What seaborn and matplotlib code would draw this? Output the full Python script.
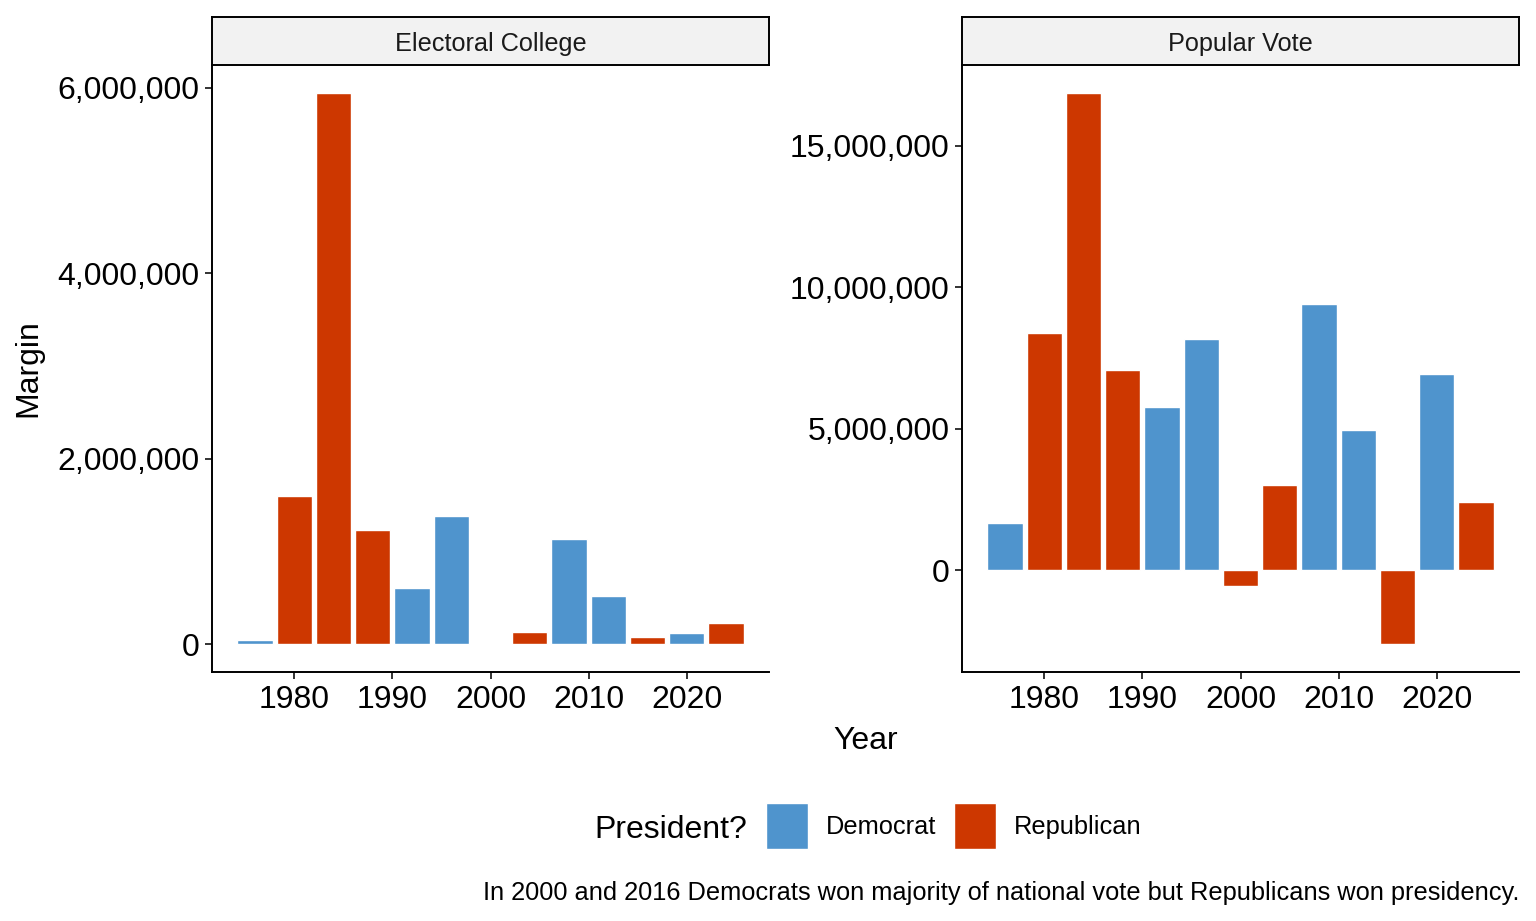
import pandas as pd
import matplotlib
matplotlib.use('Agg')
import matplotlib.pyplot as plt
import seaborn as sns
from matplotlib.patches import Patch
from matplotlib.ticker import FuncFormatter

# Election years and winning party
years = [1976, 1980, 1984, 1988, 1992, 1996, 2000, 2004, 2008, 2012, 2016, 2020, 2024]
president = ['Democrat', 'Republican', 'Republican', 'Republican', 'Democrat', 'Democrat',
             'Republican', 'Republican', 'Democrat', 'Democrat', 'Republican', 'Democrat',
             'Republican']

# Margins
electoral_margin = [43000, 1600000, 5950000, 1230000, 605000, 1380000, 537,
                    130000, 1135000, 520000, 77700, 120000, 227000]
popular_margin = [1680000, 8400000, 16880000, 7060000, 5780000, 8190000, -570000,
                  3010000, 9400000, 4960000, -2620000, 6950000, 2410000]

panels = ['Electoral College', 'Popular Vote']
colors = {'Democrat': '#4F94CD', 'Republican': '#CD3700'}

df = pd.concat([
    pd.DataFrame({'Year': years, 'Margin': electoral_margin, 'President': president,
                  'Type': 'Electoral College'}),
    pd.DataFrame({'Year': years, 'Margin': popular_margin, 'President': president,
                  'Type': 'Popular Vote'}),
])

sns.set_theme(style='white')
plt.rcParams['font.family'] = ['Liberation Sans', 'DejaVu Sans']
plt.rcParams['text.color'] = 'black'
plt.rcParams['axes.labelcolor'] = 'black'

fig = plt.figure(figsize=(15.36, 9.21), dpi=100)
W, H = 1536, 921

panel_x = [212, 962]
panel_w = 557
top_px, bot_px = 65, 672
strip_top = 17

yticks = {'Electoral College': [0, 2000000, 4000000, 6000000],
          'Popular Vote': [0, 5000000, 10000000, 15000000]}

for px, name in zip(panel_x, panels):
    ax = fig.add_axes([px / W, 1 - bot_px / H, panel_w / W, (bot_px - top_px) / H])
    sub = df[df['Type'] == name]
    sns.barplot(data=sub, x='Year', y='Margin', hue='President', palette=colors,
                native_scale=True, width=0.9, dodge=False, errorbar=None,
                saturation=1, legend=False, ax=ax)
    lo = min(0, sub['Margin'].min())
    hi = max(0, sub['Margin'].max())
    rng = hi - lo
    ax.set_ylim(lo - 0.05 * rng, hi + 0.05 * rng)
    xr = (2024 + 1.8) - (1976 - 1.8)
    ax.set_xlim(1976 - 1.8 - 0.05 * xr, 2024 + 1.8 + 0.05 * xr)
    ax.set_xticks([1980, 1990, 2000, 2010, 2020])
    ax.set_xticklabels(['1980', '1990', '2000', '2010', '2020'])
    ax.set_yticks(yticks[name])
    ax.yaxis.set_major_formatter(FuncFormatter(lambda v, p: f'{int(v):,}'))
    ax.set_xlabel('')
    ax.set_ylabel('')
    for s in ['top', 'right']:
        ax.spines[s].set_visible(False)
    for s in ['left', 'bottom']:
        ax.spines[s].set_color('black')
        ax.spines[s].set_linewidth(1.4)
    ax.tick_params(axis='both', which='major', length=5, width=1.4, color='#333333',
                   labelsize=23, labelcolor='black', pad=4, left=True, bottom=True)

    # facet strip
    sax = fig.add_axes([px / W, 1 - top_px / H, panel_w / W, (top_px - strip_top) / H])
    sax.set_facecolor('#F2F2F2')
    sax.set_xticks([])
    sax.set_yticks([])
    for s in sax.spines.values():
        s.set_visible(True)
        s.set_color('black')
        s.set_linewidth(1.4)
    sax.text(0.5, 0.5, name, ha='center', va='center_baseline', fontsize=18.2,
             color='#1A1A1A', transform=sax.transAxes)

fig.text(28 / W, 1 - 368 / H, 'Margin', rotation=90, ha='center', va='center', fontsize=23)
fig.text(866 / W, 1 - 737 / H, 'Year', ha='center', va='center_baseline', fontsize=23)

# legend at the bottom
fig.text(594 / W, 1 - 826 / H, 'President?', ha='left', va='center_baseline', fontsize=23)
handles = [Patch(facecolor=colors['Democrat'], label='Democrat'),
           Patch(facecolor=colors['Republican'], label='Republican')]
fig.legend(handles=handles, loc='center left', bbox_to_anchor=(766 / W, 1 - 826 / H),
           ncol=2, frameon=False, fontsize=18.3, handlelength=1.65, handleheight=2.36,
           handletextpad=0.7, columnspacing=0.7, borderpad=0, borderaxespad=0)

fig.text(1519 / W, 1 - 890 / H,
         'In 2000 and 2016 Democrats won majority of national vote but Republicans won presidency.',
         ha='right', va='center_baseline', fontsize=18.3)

plt.savefig('out.png', dpi=100)
